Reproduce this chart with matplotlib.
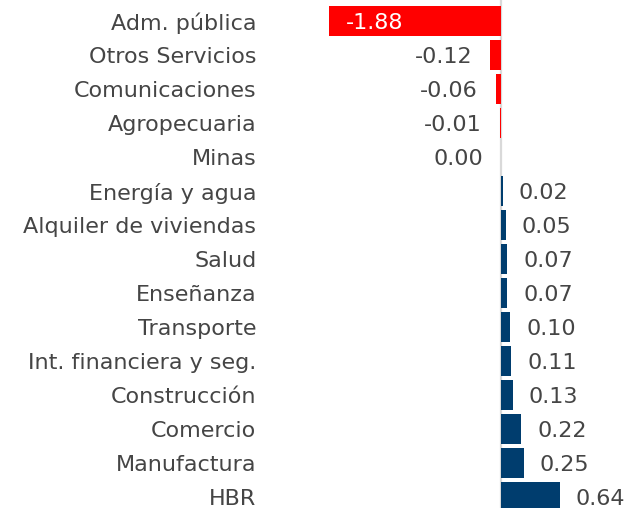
import numpy as np
import matplotlib.pyplot as plt

plt.rcParams['font.family'] = ['DejaVu Sans']

sectores = ['Adm. pública', 'Otros Servicios', 'Comunicaciones', 'Agropecuaria',
            'Minas', 'Energía y agua', 'Alquiler de viviendas', 'Salud',
            'Enseñanza', 'Transporte', 'Int. financiera y seg.', 'Construcción',
            'Comercio', 'Manufactura', 'HBR']
valores = [-1.88, -0.12, -0.06, -0.01, 0.00, 0.02, 0.05, 0.07,
           0.07, 0.10, 0.11, 0.13, 0.22, 0.25, 0.64]

rojo = '#FF0000'
azul = '#003D6E'
gris_txt = '#454545'
fs = 16

fig = plt.figure(figsize=(6.3, 5.08), dpi=100)
ax = fig.add_axes([262 / 630, 0, 1 - 262 / 630, 1])

y = np.arange(len(sectores))
colores = [rojo if v < 0 else azul for v in valores]
ax.barh(y, valores, height=0.91, color=colores, zorder=2)
ax.axvline(0, color='#D9D9D9', lw=1.6, zorder=1)

px = 1 / 91.5  # data units per pixel
for yi, v in zip(y, valores):
    txt = f'{v:.2f}'
    if v <= -1:
        ax.text(v + 17 * px, yi, txt, ha='left', va='center_baseline', color='white', fontsize=fs)
    elif v <= 0:
        ax.text(v - 18 * px, yi, txt, ha='right', va='center_baseline', color=gris_txt, fontsize=fs)
    else:
        ax.text(v + 16 * px, yi, txt, ha='left', va='center_baseline', color=gris_txt, fontsize=fs)

ax.set_xlim((262 - 501) * px, (630 - 501) * px)
ax.set_ylim((508 - 21) / 34, -21 / 34)
ax.set_yticks(y)
ax.set_yticklabels(sectores, fontsize=fs, color=gris_txt)
ax.tick_params(axis='y', length=0, pad=4)
ax.set_xticks([])
for s in ax.spines.values():
    s.set_visible(False)

fig.savefig('out.png', dpi=100)
